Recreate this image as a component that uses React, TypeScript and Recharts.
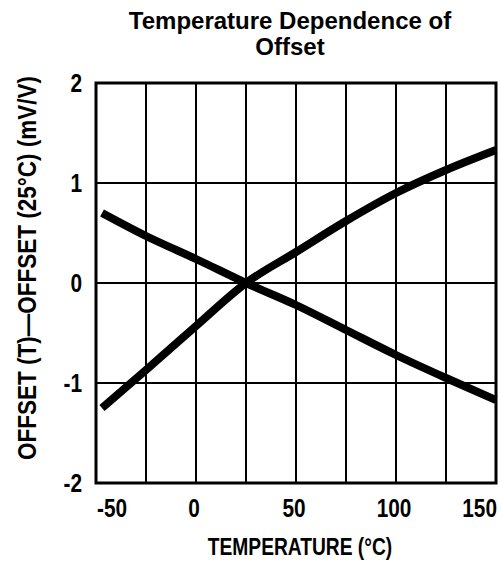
import React from "react";
import {
  LineChart, Line, XAxis, YAxis, CartesianGrid, ReferenceArea,
} from "recharts";

const temps = [-47, -25, 0, 25, 50, 75, 100, 125, 150];
const offsetFalling = [0.7, 0.47, 0.24, 0, -0.22, -0.47, -0.72, -0.95, -1.17];
const offsetRising = [-1.25, -0.87, -0.43, 0, 0.31, 0.62, 0.9, 1.13, 1.33];

const xTicks = [-50, -25, 0, 25, 50, 75, 100, 125, 150];
const xLabels = [-50, 0, 50, 100, 150];
const yTicks = [-2, -1, 0, 1, 2];

const data = temps.map((t, i) => ({ t, a: offsetFalling[i], b: offsetRising[i] }));

// no narrow face installed, so squeeze a bold sans horizontally
const SANS = "'Liberation Sans', Arial, sans-serif";
const W = 501;
const H = 574;

function XTick({ x, y, payload }: any) {
  const v = payload.value;
  if (!xLabels.includes(v)) return null;
  const anchor = v === -50 ? "start" : v === 150 ? "end" : "middle";
  const dx = v === -50 ? 1 : v === 150 ? 1 : -2;
  return (
    <g transform={`translate(${x + dx},${y + 34})`}>
      <text transform="scale(0.8,1)" textAnchor={anchor} fontFamily={SANS} fontWeight="bold" fontSize={26} fill="#000">
        {v}
      </text>
    </g>
  );
}

function YTick({ x, y, payload }: any) {
  return (
    <g transform={`translate(${x - 14},${y + 9})`}>
      <text transform="scale(0.8,1)" textAnchor="end" fontFamily={SANS} fontWeight="bold" fontSize={26} fill="#000">
        {payload.value}
      </text>
    </g>
  );
}

export default function App() {
  return (
    <div style={{ position: "absolute", left: 0, top: 0, width: W, height: H, background: "#fff" }}>
      {/* title */}
      <div style={{
        position: "absolute", left: 90, width: 400, top: 8, textAlign: "center",
        fontFamily: SANS, fontWeight: "bold", fontSize: 24, lineHeight: "26px", color: "#000",
      }}>
        Temperature Dependence of<br />Offset
      </div>

      <LineChart width={W} height={H} data={data} margin={{ top: 83, right: 5, bottom: 0, left: 0 }}>
        <CartesianGrid stroke="#000" strokeWidth={2} />
        <XAxis
          dataKey="t" type="number" domain={[-50, 150]} ticks={xTicks}
          height={91} axisLine={false} tickLine={false} tickSize={0} tickMargin={0}
          tick={<XTick />} interval={0}
        />
        <YAxis
          type="number" domain={[-2, 2]} ticks={yTicks} width={96}
          axisLine={false} tickLine={false} tickSize={0} tickMargin={0}
          tick={<YTick />} interval={0}
        />
        <ReferenceArea x1={-50} x2={150} y1={-2} y2={2} fill="none" stroke="#000" strokeWidth={3} />
        <Line type="monotone" dataKey="a" stroke="#000" strokeWidth={8} dot={false} isAnimationActive={false} strokeLinecap="butt" />
        <Line type="monotone" dataKey="b" stroke="#000" strokeWidth={8} dot={false} isAnimationActive={false} strokeLinecap="butt" />
      </LineChart>

      {/* axis titles */}
      <div style={{
        position: "absolute", left: 100, width: 400, top: 534, textAlign: "center",
        fontFamily: SANS, fontWeight: "bold", fontSize: 24, lineHeight: "26px", color: "#000",
        transform: "scaleX(0.8)",
      }}>
        TEMPERATURE (°C)
      </div>
      <div style={{
        position: "absolute", left: 27 - 200, width: 400, top: 280 - 13, textAlign: "center",
        transform: "rotate(-90deg) scaleX(0.9)", whiteSpace: "nowrap",
        fontFamily: SANS, fontWeight: "bold", fontSize: 25, lineHeight: "26px", color: "#000",
      }}>
        OFFSET (T)—OFFSET (25°C) (mV/V)
      </div>
    </div>
  );
}
